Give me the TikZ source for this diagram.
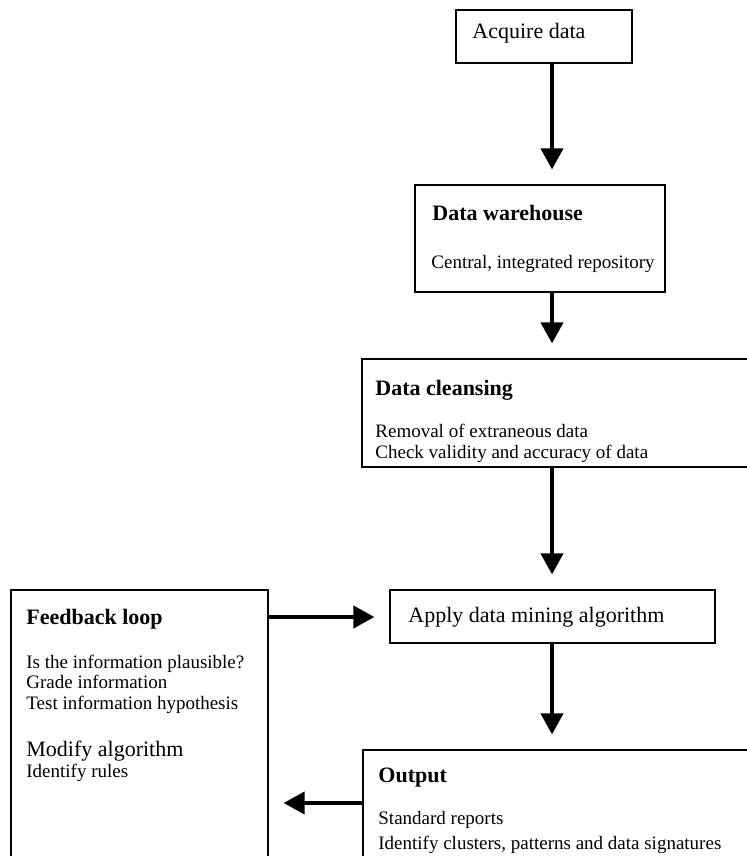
\documentclass[tikz,border=0pt]{standalone}
\usepackage{fontspec}
\setmainfont{Liberation Serif}
\usetikzlibrary{fit,arrows.meta}

\tikzset{
	stage/.style={draw, line width=0.6pt, inner sep=0pt},
	headtext/.style={anchor=base west, inner sep=0pt, font=\fontsize{11}{13}\selectfont\bfseries},
	bigtext/.style={anchor=base west, inner sep=0pt, font=\fontsize{11}{13}\selectfont},
	bodytext/.style={anchor=base west, inner sep=0pt, font=\fontsize{9.5}{11}\selectfont},
	flow/.style={line width=2pt, -{Triangle[width=11pt,length=10.5pt]}, shorten >=7.5pt}
}

\begin{document}
\begin{tikzpicture}[x=0.5pt, y=-0.5pt]
		\useasboundingbox (0,0) rectangle (747,856);
		\clip (0,0) rectangle (747,856);

		% boxes
		\node[stage, fit={(456,10) (632,63)}] (acquire) {};
		\node[stage, fit={(415,185) (665,292)}] (warehouse) {};
		\node[stage, fit={(362,359) (770,467)}] (cleansing) {};
		\node[stage, fit={(390,590) (715,643)}] (apply) {};
		\node[stage, fit={(11,590) (268,900)}] (feedback) {};
		\node[stage, fit={(363,750) (770,900)}] (output) {};

		% texts
		\node[bigtext] (acquire text) at (472,39) {Acquire data};

		\node[headtext] (warehouse title) at (432,220) {Data warehouse};
		\node[bodytext] (warehouse text) at (431,268) {Central, integrated repository};

		\node[headtext] (cleansing title) at (375,395) {Data cleansing};
		\node[bodytext] (cleansing text1) at (375,437) {Removal of extraneous data};
		\node[bodytext] (cleansing text2) at (375,458) {Check validity and accuracy of data};

		\node[bigtext] (apply text) at (408,622) {Apply data mining algorithm};

		\node[headtext] (feedback title) at (26,624) {Feedback loop};
		\node[bodytext] (feedback text1) at (26,668) {Is the information plausible?};
		\node[bodytext] (feedback text2) at (26,688) {Grade information};
		\node[bodytext] (feedback text3) at (26,709) {Test information hypothesis};
		\node[bigtext] (feedback text4) at (26,756) {Modify algorithm};
		\node[bodytext] (feedback text5) at (26,777) {Identify rules};

		\node[headtext] (output title) at (378,782) {Output};
		\node[bodytext] (output text1) at (378,824) {Standard reports};
		\node[bodytext] (output text2) at (378,849) {Identify clusters, patterns and data signatures};

		% arrows
		\coordinate (column) at (552,0);
		\coordinate (upper) at (0,617);
		\coordinate (lower) at (0,803);
		\draw[flow] (acquire.south -| column) -- (warehouse.north -| column);
		\draw[flow] (warehouse.south -| column) -- (cleansing.north -| column);
		\draw[flow] (cleansing.south -| column) -- (apply.north -| column);
		\draw[flow] (apply.south -| column) -- (output.north -| column);
		\draw[flow] (feedback.east |- upper) -- (apply.west |- upper);
		\draw[flow] (output.west |- lower) -- (feedback.east |- lower);

\end{tikzpicture}
\end{document}
